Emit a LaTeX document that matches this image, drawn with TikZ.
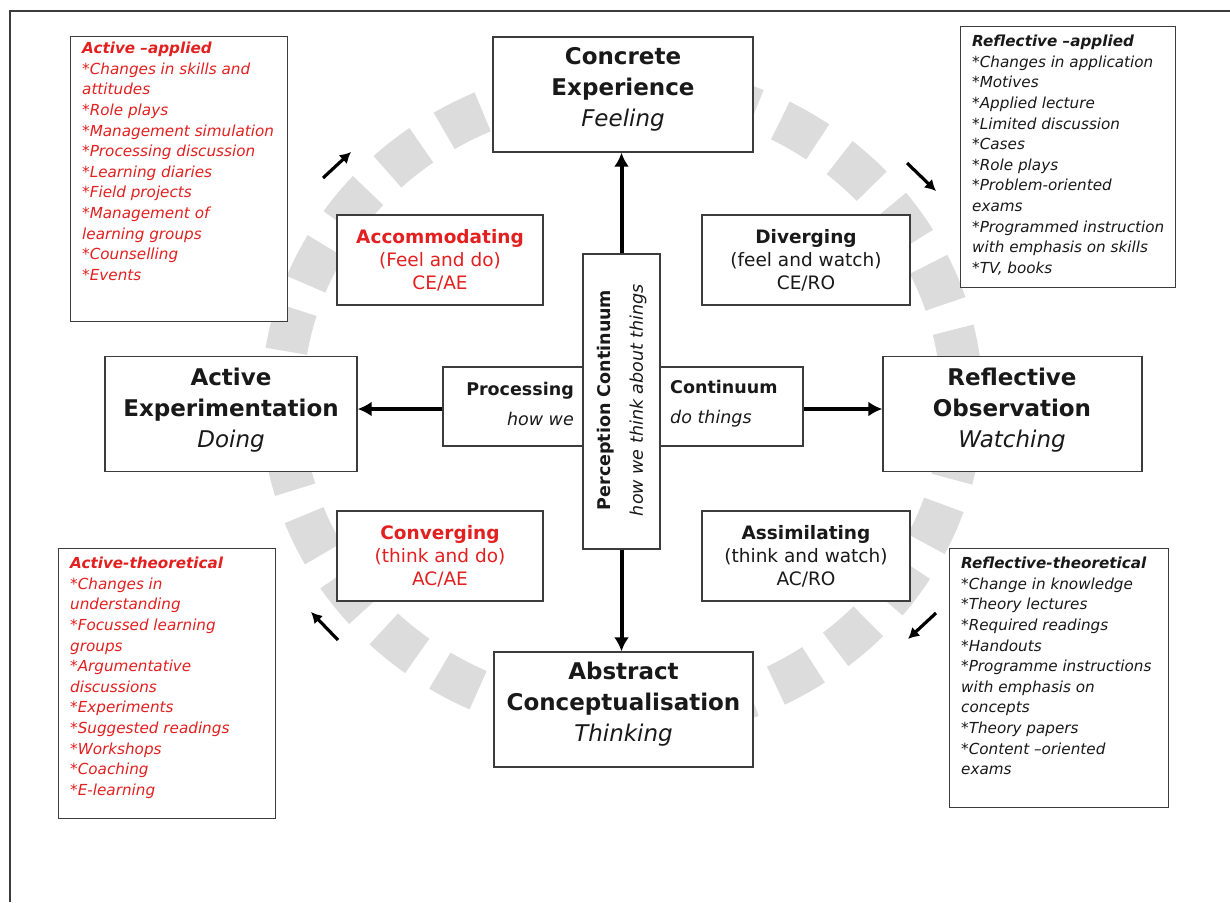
\documentclass[tikz,border=0pt]{standalone}
\usepackage{fontspec}
\setmainfont{DejaVu Sans}
\usetikzlibrary{arrows.meta}
\definecolor{kred}{RGB}{226,32,32}
\definecolor{ktext}{RGB}{25,25,25}
\definecolor{kdash}{RGB}{220,220,220}
\definecolor{kborder}{RGB}{60,60,60}
\begin{document}
\begin{tikzpicture}[x=1pt,y=-1pt,
  box/.style={draw=kborder, line width=1.4pt, fill=white, inner sep=0pt},
  mainbox/.style={box, minimum width=260pt, minimum height=115pt},
  maintext/.style={align=center, inner sep=0pt, text=ktext, font=\fontsize{23}{31}\selectfont},
  stylebox/.style={box, minimum width=206pt, minimum height=90pt, align=center, font=\fontsize{18.5}{23}\selectfont},
  listtext/.style={align=left, inner sep=0pt, anchor=north west, font=\fontsize{15.2}{20.6}\selectfont\itshape},
  midtext/.style={inner sep=0pt, text=ktext, font=\fontsize{17.5}{30}\selectfont},
  bigarrow/.style={line width=4pt, -{Latex[length=14pt,width=15pt]}},
  smallarrow/.style={line width=3.2pt, -{Latex[length=11pt,width=12pt]}},
]
\useasboundingbox (0,0) rectangle (1230,902);
\fill[white] (0,0) rectangle (1230,902);
% outer frame
\draw[kborder, line width=1.2pt] (10,902) -- (10,11) -- (1230,11);

% dashed cycle
\draw[kdash, line width=42pt, dash pattern=on 43pt off 27pt, dash phase=35pt] (622,402) ellipse [x radius=340, y radius=318];

% main boxes
\node[mainbox] (ce) at (623,94.5) {};
\node[maintext] (cet) at (623,89) {\textbf{Concrete}\\\textbf{Experience}\\\textit{Feeling}};
\node[mainbox, minimum width=252pt] (ae) at (231,414) {};
\node[maintext] (aet) at (231,410) {\textbf{Active}\\\textbf{Experimentation}\\\textit{Doing}};
\node[mainbox, minimum width=259pt] (ro) at (1012.5,414) {};
\node[maintext] (rot) at (1012,410) {\textbf{Reflective}\\\textbf{Observation}\\\textit{Watching}};
\node[mainbox, minimum width=259pt] (ac) at (623.5,709.5) {};
\node[maintext] (act) at (623.5,704.5) {\textbf{Abstract}\\\textbf{Conceptualisation}\\\textit{Thinking}};

% learning style boxes
\node[stylebox, text=kred] (acc) at (440,260) {\textbf{Accommodating}\\(Feel and do)\\CE/AE};
\node[stylebox, minimum width=208pt, text=ktext] (div) at (806,260) {\textbf{Diverging}\\(feel and watch)\\CE/RO};
\node[stylebox, text=kred] (con) at (440,556) {\textbf{Converging}\\(think and do)\\AC/AE};
\node[stylebox, minimum width=208pt, text=ktext] (ass) at (806,556) {\textbf{Assimilating}\\(think and watch)\\AC/RO};

% processing continuum (horizontal)
\node[box, minimum width=360pt, minimum height=79pt] (proc) at (623,406.5) {};
\node[midtext, align=right, anchor=east] (proct) at (574,404) {\textbf{Processing}\\\textit{how we}};
\node[midtext, align=left, anchor=west] (contt) at (670,404) {\textbf{Continuum}\\\textit{do things}};

% perception continuum (vertical)
\node[box, minimum width=77pt, minimum height=295pt] (perc) at (621.5,401.5) {};
\node[midtext, rotate=90, align=center, font=\fontsize{17.5}{32}\selectfont] (perct) at (622,400) {\textbf{Perception Continuum}\\\textit{how we think about things}};

% big arrows
\draw[bigarrow] (perc.north) -- (perc.north |- ce.south);
\draw[bigarrow] (perc.south) -- (perc.south |- ac.north);
\draw[bigarrow] (proc.west |- 0,409) -- (ae.east |- 0,409);
\draw[bigarrow] (proc.east |- 0,409) -- (ro.west |- 0,409);

% list boxes
\node[box, minimum width=217pt, minimum height=285pt, anchor=north west] (aapp) at (70,36) {};
\node[listtext, text=kred] (aappt) at (82,42) {\textbf{Active –applied}\\{}*Changes in skills and\\attitudes\\{}*Role plays\\{}*Management simulation\\{}*Processing discussion\\{}*Learning diaries\\{}*Field projects\\{}*Management of\\learning groups\\{}*Counselling\\{}*Events};

\node[box, minimum width=215pt, minimum height=261pt, anchor=north west] (rapp) at (960,26) {};
\node[listtext, text=ktext] (rappt) at (972,35) {\textbf{Reflective –applied}\\{}*Changes in application\\{}*Motives\\{}*Applied lecture\\{}*Limited discussion\\{}*Cases\\{}*Role plays\\{}*Problem-oriented\\exams\\{}*Programmed instruction\\with emphasis on skills\\{}*TV, books};

\node[box, minimum width=217pt, minimum height=270pt, anchor=north west] (athe) at (58,548) {};
\node[listtext, text=kred] (athet) at (70,557) {\textbf{Active-theoretical}\\{}*Changes in\\understanding\\{}*Focussed learning\\groups\\{}*Argumentative\\discussions\\{}*Experiments\\{}*Suggested readings\\{}*Workshops\\{}*Coaching\\{}*E-learning};

\node[box, minimum width=219pt, minimum height=259pt, anchor=north west] (rthe) at (949,548) {};
\node[listtext, text=ktext] (rthet) at (961,557) {\textbf{Reflective-theoretical}\\{}*Change in knowledge\\{}*Theory lectures\\{}*Required readings\\{}*Handouts\\{}*Programme instructions\\with emphasis on\\concepts\\{}*Theory papers\\{}*Content –oriented\\exams};

% small cycle arrows
\coordinate (tl1) at (323,178); \coordinate (tl2) at (351,152);
\coordinate (tr1) at (907,163); \coordinate (tr2) at (936,191);
\coordinate (br1) at (936,613); \coordinate (br2) at (908,639);
\coordinate (bl1) at (338,640); \coordinate (bl2) at (311,612);
\draw[smallarrow] (tl1) -- (tl2);
\draw[smallarrow] (tr1) -- (tr2);
\draw[smallarrow] (br1) -- (br2);
\draw[smallarrow] (bl1) -- (bl2);
\end{tikzpicture}
\end{document}
